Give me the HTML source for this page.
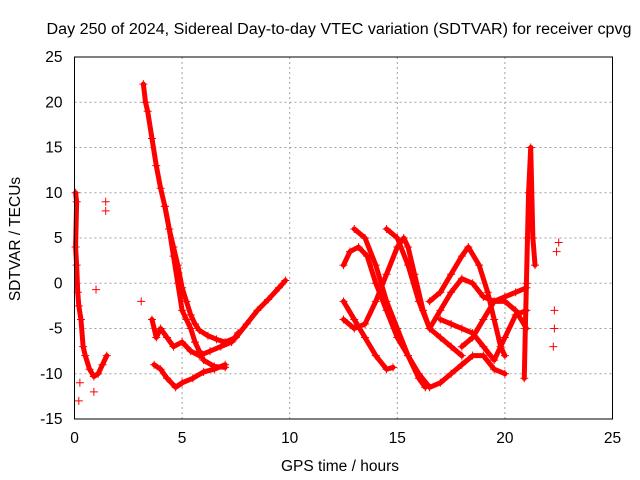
<!DOCTYPE html>
<html><head><meta charset="utf-8"><style>
body{margin:0;background:#fff;}
svg{display:block;font-family:"Liberation Sans",sans-serif;}
</style></head><body>
<svg id="chart" width="640" height="480" viewBox="0 0 640 480">
<text x="339" y="34" font-size="15.5" text-anchor="middle" fill="#000" textLength="585" lengthAdjust="spacingAndGlyphs">Day 250 of 2024, Sidereal Day-to-day VTEC variation (SDTVAR) for receiver cpvg</text>
<text x="20" y="239" font-size="15.5" text-anchor="middle" transform="rotate(-90 20 239)">SDTVAR / TECUs</text>
<text x="340" y="471" font-size="15.5" text-anchor="middle">GPS time / hours</text>
<g id="grid"></g><g id="marks"></g><g id="axes"></g>
</svg>
<script>
const xTicks=[0,5,10,15,20,25];
const yTicks=[25,20,15,10,5,0,-5,-10,-15];
const trackA=[[3.2,22],[3.3,20],[3.4,19],[3.6,16],[3.8,13],[4.0,10.5],[4.2,8.5],[4.4,6],[4.6,4],[4.8,2],[5.0,-0.5],[5.2,-2],[5.4,-3.5],[5.6,-4.5],[5.8,-5.2],[6.2,-5.8],[6.6,-6.2],[7,-6.5],[7.5,-6],[8,-4.5],[8.5,-3],[9,-1.8],[9.5,-0.5],[9.8,0.3]];
const trackB=[[4.2,8.5],[4.4,6],[4.6,3],[4.8,0],[5.0,-3],[5.2,-4],[5.4,-5],[5.6,-6.5],[5.8,-7.5],[6.0,-8.5],[6.5,-9.2],[7,-9.3]];
const trackC=[[3.7,-9],[4.0,-9.5],[4.3,-10.5],[4.7,-11.5],[5.0,-11],[5.5,-10.5],[6,-9.8],[6.5,-9.5],[7,-9]];
const trackD=[[3.6,-4],[3.8,-6],[4.0,-5],[4.3,-6],[4.6,-7],[5.0,-6.5],[5.4,-7.5],[5.8,-8],[6.3,-7.5],[6.8,-7],[7.3,-6.5],[7.6,-5.5]];
const trackE=[[0.05,10],[0.1,9],[0.05,4],[0.1,2],[0.15,-1],[0.2,-2.5],[0.3,-4],[0.4,-7],[0.5,-8],[0.7,-9.5],[0.9,-10.3],[1.1,-10],[1.3,-9],[1.5,-8]];
const singles=[[0.2,-13],[0.25,-11],[1.45,9],[1.45,8],[1.0,-0.7],[3.1,-2],[0.9,-12],[22.4,3.5],[22.5,4.5],[22.3,-3],[22.25,-7],[22.3,-5]];
const trackF=[[12.5,-2],[13,-4],[13.5,-6],[14,-8],[14.5,-9.5],[14.8,-9.3]];
const trackG=[[12.5,2],[12.8,3.5],[13.2,4],[13.6,3],[14,0],[14.5,-3],[15,-6],[15.5,-8],[16,-10],[16.5,-11.5],[17,-11],[17.5,-10],[18,-9],[18.5,-8],[19,-8],[19.5,-9.5],[20,-10]];
const trackH=[[13,6],[13.5,5],[14,2],[14.5,-2],[15,-5],[15.5,-8],[16,-10.5],[16.3,-11.5]];
const trackI=[[12.5,-4],[13,-5],[13.5,-4.5],[14,-2],[14.5,1],[15,4],[15.3,5],[15.5,4],[15.8,1],[16.2,-3],[16.5,-5],[17,-6],[17.5,-7],[18,-8]];
const trackJ=[[14.5,6],[15,5],[15.5,2],[16,-2],[16.5,-5],[17,-3],[17.5,-1],[18,0.5],[18.5,0],[19,-1.5],[19.5,-2],[20,-1.5],[20.5,-1],[21,-0.5]];
const trackK=[[16.5,-2],[17,-1],[17.5,1],[18,3],[18.3,4],[18.8,2],[19.2,-1],[19.5,-4],[19.8,-7],[20,-8]];
const trackL=[[17,-4],[17.5,-4.5],[18,-5],[18.5,-5.5],[19,-7],[19.5,-8.5],[20,-6],[20.5,-3.5],[21,-3]];
const trackM=[[18,-7],[18.5,-6],[19,-4],[19.5,-2],[20,-2],[20.5,-3],[21,-5]];
const trackN=[[20.9,-10.5],[20.95,-5],[21,0],[21.05,5],[21.1,10],[21.2,15],[21.3,5],[21.4,2]];
const tracks=[trackA,trackB,trackC,trackD,trackE,trackF,trackG,trackH,trackI,trackJ,trackK,trackL,trackM,trackN];

const L=74.5,R=612.5,T=57,B=419;
const xs=v=>L+(v-0)/25*(R-L);
const ys=v=>B-(v+15)/40*(B-T);
const NS="http://www.w3.org/2000/svg";
function mk(tag,parent,attrs){const e=document.createElementNS(NS,tag);for(const k in attrs)e.setAttribute(k,attrs[k]);parent.appendChild(e);return e;}
const grid=document.getElementById('grid'),axes=document.getElementById('axes'),marks=document.getElementById('marks');
xTicks.forEach(t=>{
  if(t>0&&t<25){const g=mk('line',grid,{x1:xs(t),x2:xs(t),y1:T,y2:B,stroke:'#a0a0a0','stroke-dasharray':'2,3'});
  
  }
  const l=mk('text',axes,{x:xs(t),y:B+24,'font-size':15.5,'text-anchor':'middle',fill:'#000'});
  l.textContent=t;
  
  
});
yTicks.forEach(t=>{
  if(t>-15&&t<25){const g=mk('line',grid,{x1:L,x2:R,y1:ys(t),y2:ys(t),stroke:'#a0a0a0','stroke-dasharray':'2,3'});
  
  }
  const l=mk('text',axes,{x:L-12,y:ys(t)+5,'font-size':15.5,'text-anchor':'end',fill:'#000'});
  l.textContent=t;
  
  
});
const frame=mk('rect',axes,{x:L,y:T,width:R-L,height:B-T,fill:'none',stroke:'#000'});


function plus(x,y){mk('path',marks,{d:`M${x-4},${y}h8M${x},${y-4}v8`,stroke:'#f00','stroke-width':1});}
tracks.forEach(tr=>{
  const p=mk('polyline',marks,{points:tr.map(d=>xs(d[0])+','+ys(d[1])).join(' '),fill:'none',stroke:'#f00','stroke-width':5,'stroke-linejoin':'round','stroke-linecap':'round'});
  
  
  tr.forEach(d=>plus(xs(d[0]),ys(d[1])));
});
singles.forEach(d=>plus(xs(d[0]),ys(d[1])));
</script>
</body></html>
